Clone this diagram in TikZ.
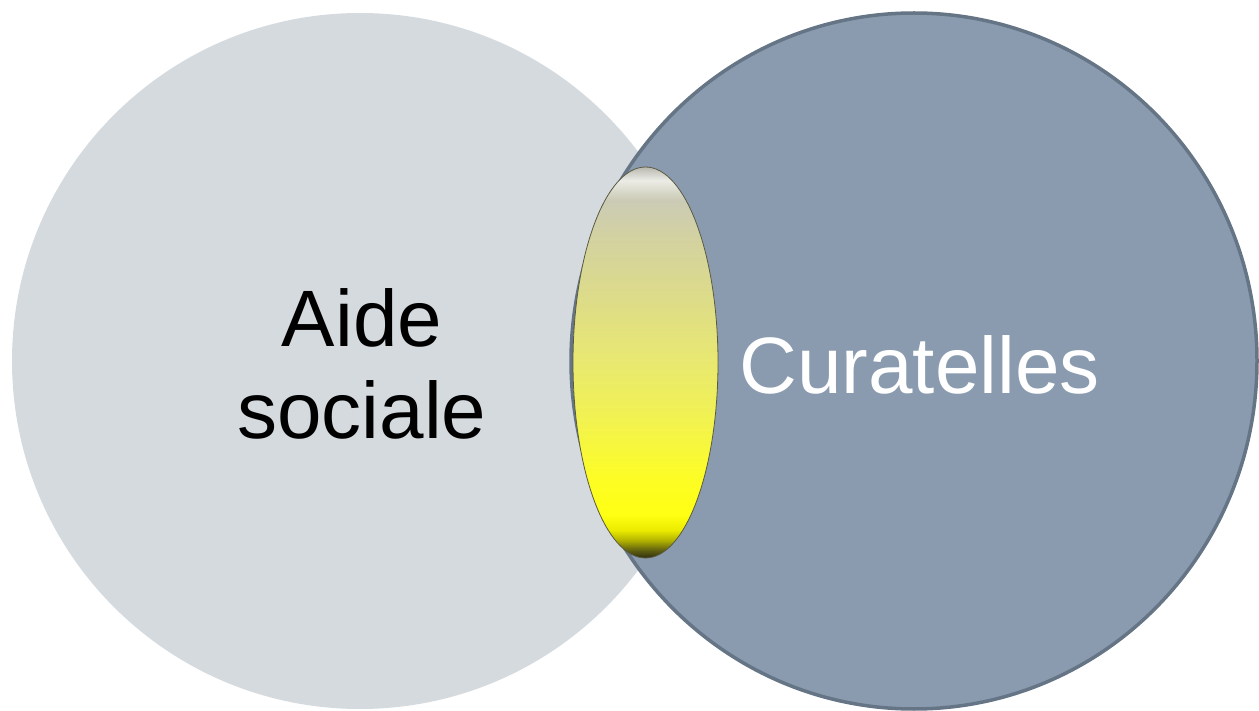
\documentclass[tikz,border=0pt]{standalone}
\usepackage{fontspec}
\setmainfont{Liberation Sans}

\definecolor{socialgray}{HTML}{D5DADF}
\definecolor{curafill}{HTML}{8A9BB0}
\definecolor{curaline}{HTML}{657585}
\definecolor{lensline}{HTML}{5A5A40}

\definecolor{lensA}{HTML}{2E2E10}
\definecolor{lensB}{HTML}{606010}
\definecolor{lensC}{HTML}{B4B400}
\definecolor{lensD}{HTML}{ECEC00}
\definecolor{lensE}{HTML}{FFFF14}
\definecolor{lensF}{HTML}{FDFD24}
\definecolor{lensG}{HTML}{F2F250}
\definecolor{lensH}{HTML}{E8E872}
\definecolor{lensI}{HTML}{DDDC88}
\definecolor{lensJ}{HTML}{D3D2A0}
\definecolor{lensK}{HTML}{CBCBB6}
\definecolor{lensL}{HTML}{ECECE6}
\definecolor{lensM}{HTML}{B8B8B0}

\pgfdeclareverticalshading{lensglow}{100bp}{%
  color(0bp)=(lensA);
  color(25bp)=(lensA);
  color(26bp)=(lensB);
  color(27.3bp)=(lensC);
  color(28.6bp)=(lensD);
  color(30.5bp)=(lensE);
  color(35bp)=(lensF);
  color(42.6bp)=(lensG);
  color(50.3bp)=(lensH);
  color(58bp)=(lensI);
  color(65.7bp)=(lensJ);
  color(70.8bp)=(lensK);
  color(73.3bp)=(lensL);
  color(75bp)=(lensM);
  color(100bp)=(lensM)}

\tikzset{
  bigtext/.style={font=\fontsize{80}{92}\selectfont, align=center, inner sep=0pt},
}

\begin{document}
\begin{tikzpicture}[x=1pt,y=-1pt]
%\draw[step=50,gray,very thin] (0,0) grid (1259,711); %background grid
\useasboundingbox (0,0) rectangle (1259,711);

%circles
\fill[socialgray] (360,361) ellipse (348 and 348);
\draw[fill=curafill, draw=curaline, line width=3.5pt] (914,361) ellipse (343 and 348);

%overlap
\shade[shading=lensglow, draw=lensline, line width=0.8pt] (645.5,362.5) ellipse (72.5 and 195.5);

%labels
\node[bigtext, text=black] (aide) at (362,364) {Aide\\sociale};
\node[bigtext, text=white, anchor=base] (curatelles) at (919.5,394) {Curatelles};

\end{tikzpicture}
\end{document}
